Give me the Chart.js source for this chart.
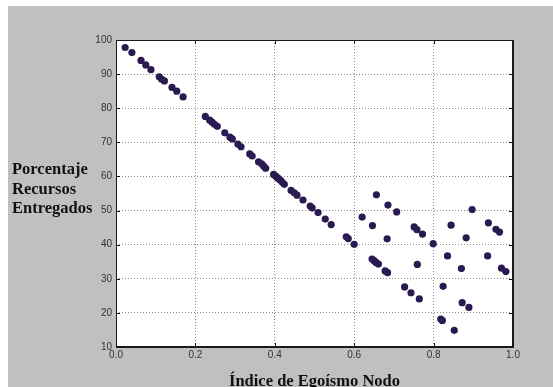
<!DOCTYPE html>
<html>
<head>
<meta charset="utf-8">
<script src="https://cdn.jsdelivr.net/npm/chart.js@4.4.0/dist/chart.umd.min.js"></script>
<style>
  body { margin: 0; background: #ffffff; }
  #box { position: absolute; left: 8px; top: 6px; width: 545px; height: 381px; background: #c0c0c0; }
</style>
</head>
<body>
<div id="box"><canvas id="myChart" width="545" height="381"></canvas></div>
<script>
// values
const egoismo = [
  0.023, 0.040, 0.063, 0.075, 0.088, 0.109, 0.115, 0.122, 0.141, 0.153, 0.169,
  0.225, 0.236, 0.242, 0.248, 0.255, 0.274, 0.287, 0.293, 0.307, 0.315,
  0.337, 0.343, 0.359, 0.367, 0.372, 0.377, 0.397, 0.403, 0.408, 0.414,
  0.419, 0.424, 0.441, 0.449, 0.456, 0.471, 0.489, 0.494, 0.509, 0.527,
  0.542, 0.580, 0.585, 0.600, 0.620, 0.646, 0.656, 0.685, 0.707, 0.683,
  0.645, 0.650, 0.655, 0.661, 0.678, 0.684, 0.727, 0.743, 0.764,
  0.751, 0.758, 0.772, 0.759, 0.799, 0.824, 0.818, 0.822, 0.835, 0.844,
  0.852, 0.870, 0.872, 0.882, 0.889, 0.897, 0.936, 0.938, 0.957, 0.966,
  0.971, 0.982
];
const porcentaje = [
  97.8, 96.3, 94.0, 92.7, 91.3, 89.2, 88.5, 88.0, 86.1, 85.0, 83.3,
  77.6, 76.5, 75.9, 75.3, 74.7, 72.8, 71.5, 71.0, 69.5, 68.7,
  66.6, 66.0, 64.3, 63.7, 63.0, 62.4, 60.6, 60.0, 59.5, 58.9,
  58.3, 57.7, 55.9, 55.2, 54.5, 53.1, 51.3, 50.8, 49.4, 47.5,
  45.9, 42.3, 41.8, 40.1, 48.1, 45.6, 54.6, 51.6, 49.6, 41.7,
  35.8, 35.3, 34.8, 34.3, 32.3, 31.8, 27.6, 25.9, 24.1,
  45.2, 44.4, 43.1, 34.2, 40.3, 27.8, 18.2, 17.8, 36.7, 45.7,
  14.9, 33.0, 23.0, 42.0, 21.6, 50.3, 36.7, 46.4, 44.5, 43.7,
  33.1, 32.1
];
const xTicks = [0, 0.2, 0.4, 0.6, 0.8, 1.0];
const yTicks = [10, 20, 30, 40, 50, 60, 70, 80, 90, 100];
const yTitle = ["Porcentaje", "Recursos", "Entregados"];
const xTitle = "Índice de Egoísmo Nodo";

const points = egoismo.map((x, i) => ({ x: x, y: porcentaje[i] }));

const frame = {
  id: "frame",
  beforeDraw(chart) {
    const a = chart.chartArea;
    const c = chart.ctx;
    c.save();
    c.fillStyle = "#ffffff";
    c.fillRect(a.left, a.top, a.right - a.left, a.bottom - a.top);
    c.restore();
  },
  afterDraw(chart) {
    const a = chart.chartArea;
    const c = chart.ctx;
    const xs = chart.scales.x;
    const ys = chart.scales.y;
    c.save();
    c.strokeStyle = "#111";
    c.lineWidth = 1;
    // inside tick marks on all four sides
    c.beginPath();
    xTicks.forEach((v) => {
      const px = Math.round(xs.getPixelForValue(v)) + 0.5;
      c.moveTo(px, a.bottom); c.lineTo(px, a.bottom - 4);
      c.moveTo(px, a.top); c.lineTo(px, a.top + 4);
    });
    yTicks.forEach((v) => {
      const py = Math.round(ys.getPixelForValue(v)) + 0.5;
      c.moveTo(a.left, py); c.lineTo(a.left + 4, py);
      c.moveTo(a.right, py); c.lineTo(a.right - 4, py);
    });
    c.stroke();
    // box
    c.strokeStyle = "#1a1a1a";
    c.beginPath();
    c.moveTo(a.left + 0.5, a.bottom); c.lineTo(a.left + 0.5, a.top + 0.5); c.lineTo(a.right, a.top + 0.5);
    c.stroke();
    c.lineWidth = 2;
    c.beginPath();
    c.moveTo(a.right, a.top); c.lineTo(a.right, a.bottom); c.lineTo(a.left, a.bottom);
    c.stroke();
    // titles
    c.fillStyle = "#111";
    c.font = "bold 16.5px 'Liberation Serif', 'DejaVu Serif', serif";
    c.textAlign = "left";
    c.textBaseline = "alphabetic";
    yTitle.forEach((t, i) => c.fillText(t, 4, 168 + i * 19.5));
    c.textAlign = "center";
    c.fillText(xTitle, (a.left + a.right) / 2, 380);
    c.restore();
  }
};

new Chart(document.getElementById("myChart"), {
  type: "scatter",
  data: {
    datasets: [{
      data: points,
      backgroundColor: "#2b1a52",
      borderColor: "#2b1a52",
      pointRadius: 3.6,
      pointBorderWidth: 0,
    }],
  },
  options: {
    responsive: false,
    animation: false,
    devicePixelRatio: 1,
    layout: { padding: { top: 34, right: 40, left: 0, bottom: 0 } },
    plugins: { legend: { display: false }, tooltip: { enabled: false } },
    scales: {
      x: {
        type: "linear",
        min: 0, max: 1,
        afterFit: (s) => { s.height = 40; },
        afterBuildTicks: (s) => { s.ticks = xTicks.map((v) => ({ value: v })); },
        grid: { color: "#8a8a8a", lineWidth: 1, drawTicks: false, tickBorderDash: [1, 2] },
        border: { display: false, dash: [1, 2] },
        ticks: {
          padding: 2,
          color: "#333",
          font: { family: "'Liberation Sans', Arial, sans-serif", size: 10 },
          callback: (v) => v.toFixed(1),
        },
      },
      y: {
        min: 10, max: 100,
        afterFit: (s) => { s.width = 108; },
        afterBuildTicks: (s) => { s.ticks = yTicks.map((v) => ({ value: v })); },
        grid: { color: "#8a8a8a", lineWidth: 1, drawTicks: false },
        border: { display: false, dash: [1, 2] },
        ticks: {
          padding: 4,
          color: "#333",
          font: { family: "'Liberation Sans', Arial, sans-serif", size: 10 },
        },
      },
    },
  },
  plugins: [frame],
});
</script>
</body>
</html>
